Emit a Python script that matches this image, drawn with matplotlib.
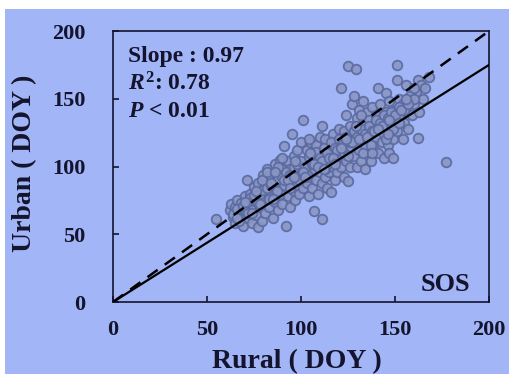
import numpy as np
import matplotlib
matplotlib.use('Agg')
import matplotlib.pyplot as plt
from matplotlib.patches import Rectangle

# rural / urban SOS (DOY)
rural = [62, 63, 64, 65, 65, 66, 67, 68, 68, 69, 70, 70,
         71, 72, 72, 73, 74, 74, 75, 76, 76, 77, 77, 78, 79, 79, 80, 80,
         81, 81, 82, 83, 83, 84, 85, 85, 86, 86, 87, 88, 88, 89, 89, 90, 90,
         91, 91, 92, 92, 93, 93, 94, 94, 95, 95, 96, 96, 97, 97, 98, 98, 99, 99, 100, 100,
         101, 101, 102, 102, 103, 103, 104, 104, 105, 105, 106, 106, 107, 107, 108, 108, 109, 109, 110, 110,
         111, 111, 111, 112, 112, 113, 113, 114, 114, 115, 115, 116, 116, 117, 117, 118, 118, 119, 119, 120, 120,
         121, 121, 122, 122, 123, 123, 124, 124, 125, 125, 125, 126, 126, 127, 127, 128, 128, 129, 129, 130, 130, 130,
         131, 131, 132, 132, 133, 133, 134, 134, 135, 135, 136, 136, 137, 137, 138, 138, 139, 139, 140, 140,
         141, 141, 142, 142, 143, 143, 144, 144, 145, 145, 146, 146, 147, 147, 148, 148, 149, 149, 150, 150,
         151, 151, 151, 152, 153, 154, 154, 155, 156, 156, 157, 158, 159, 160, 161, 162, 162, 163, 164, 165, 166, 168,
         177, 55,
         # second layer filling the dense band
         64, 66, 69, 71, 73, 75, 78, 80, 82, 84, 86, 88, 90, 92, 94, 96, 98, 100,
         102, 104, 106, 108, 110, 112, 114, 116, 118, 120, 122, 124, 126, 128, 130,
         132, 134, 136, 138, 140, 142, 144, 146, 148, 150, 152, 155, 158, 160,
         67, 72, 77, 83, 87, 91, 95, 99, 103, 107, 111, 115, 119, 123, 127, 131,
         135, 139, 143, 147, 153, 157,
         # third layer
         66, 70, 74, 79, 82, 85, 88, 93, 97, 101, 105, 109, 113, 117, 121, 125,
         129, 133, 137, 141, 145, 149, 152, 156, 160, 76, 84, 90, 96, 104,
         112, 118, 124, 132, 138, 146, 78, 86, 94, 102]
urban = [68, 72, 63, 58, 70, 75, 66, 61, 73, 56, 68, 78,
         90, 62, 72, 80, 58, 68, 85, 76, 64, 55, 88, 70, 82, 60, 75, 94,
         66, 86, 98, 78, 70, 92, 62, 84, 102, 74, 95, 68, 88, 80, 105, 72, 98,
         115, 86, 56, 93, 78, 104, 70, 98, 124, 88, 82, 108, 75, 95, 112, 86, 100, 80, 92, 118,
         134, 84, 104, 96, 88, 112, 78, 100, 118, 92, 84, 108, 67, 98, 116, 90, 104, 80, 122, 96,
         61, 130, 88, 110, 100, 92, 120, 84, 104, 114, 96, 81, 108, 124, 100, 90, 116, 106, 96, 128, 112,
         158, 100, 118, 108, 92, 126, 104, 138, 174, 89, 114, 130, 100, 122, 146, 108, 152, 172, 118, 136, 100, 126,
         112, 142, 120, 104, 132, 148, 116, 98, 126, 140, 110, 134, 122, 104, 144, 118, 130, 112, 138, 122,
         158, 110, 128, 146, 118, 136, 106, 124, 154, 140, 116, 130, 110, 148, 126, 136, 106, 120, 142, 132,
         175, 164, 126, 150, 138, 120, 146, 132, 160, 140, 128, 150, 138, 146, 155, 121, 164, 140, 160, 150, 158, 166,
         103, 61,
         65, 69, 71, 74, 77, 79, 80, 83, 84, 86, 89, 91, 92, 96, 94, 100, 102, 104,
         100, 107, 102, 111, 106, 114, 110, 118, 114, 120, 116, 122, 118, 126, 122,
         128, 124, 130, 126, 134, 132, 138, 136, 140, 138, 144, 142, 152, 150,
         60, 66, 73, 76, 82, 90, 93, 90, 94, 102, 104, 106, 112, 110, 118, 120,
         122, 126, 130, 134, 142, 146,
         62, 74, 66, 90, 96, 76, 100, 90, 104, 96, 110, 100, 98, 106, 114, 108,
         130, 110, 116, 128, 120, 128, 132, 150, 158, 82, 88, 106, 92, 120,
         98, 102, 120, 138, 110, 124, 72, 96, 84, 92]

one_to_one_x = [0, 200]
one_to_one_y = [0, 200]
fit_x = [0, 200]
fit_y = [0, 175]

x_ticks = [0, 50, 100, 150, 200]
y_ticks = [0, 50, 100, 150, 200]

bg = '#a2b5f6'
ink = '#14142e'
plt.rcParams['font.family'] = ['Liberation Serif', 'DejaVu Serif']
plt.rcParams['font.weight'] = 'bold'
plt.rcParams['mathtext.fontset'] = 'custom'
plt.rcParams['mathtext.it'] = 'Liberation Serif:italic:bold'
plt.rcParams['mathtext.rm'] = 'Liberation Serif:bold'
plt.rcParams['xtick.major.pad'] = 13
plt.rcParams['ytick.major.pad'] = 20

fig = plt.figure(figsize=(5.1, 3.74), dpi=100)
fig.patch.set_facecolor('white')
fig.patches.append(Rectangle((5 / 510, 0), 1, 1 - 9 / 374, transform=fig.transFigure,
                             facecolor=bg, edgecolor='none', zorder=-10))

ax = fig.add_axes([0.2216, 0.1925, 0.7373, 0.7246])
ax.set_facecolor(bg)

ax.scatter(rural, urban, s=48, facecolor='#8a96c4', edgecolor='#5a6aa0',
           linewidth=1.3, alpha=0.9, zorder=2)
ax.plot(one_to_one_x, one_to_one_y, '--', color='black', lw=1.8, dashes=(5, 3.5), zorder=3)
ax.plot(fit_x, fit_y, '-', color='black', lw=1.6, zorder=3)

ax.set_xlim(0, 200)
ax.set_ylim(0, 200)
ax.set_xticks(x_ticks)
ax.set_yticks(y_ticks)
ax.tick_params(direction='in', length=4, width=1.2, colors=ink, labelsize=16,
               top=False, right=False)
for sp in ax.spines.values():
    sp.set_color(ink)
    sp.set_linewidth(1.2)

ax.set_xlabel('Rural ( DOY )', fontsize=20, fontweight='bold', color=ink, va='center')
ax.set_ylabel('Urban ( DOY )', fontsize=20, fontweight='bold', color=ink, va='center')
ax.xaxis.set_label_coords(0.49, -0.221)
ax.yaxis.set_label_coords(-0.234, 0.51)

ax.text(0.04, 0.886, 'Slope : 0.97', transform=ax.transAxes, fontsize=17,
        fontweight='bold', color=ink, va='baseline')
ax.text(0.04, 0.782, r'$R^2$: 0.78', transform=ax.transAxes, fontsize=17,
        fontweight='bold', color=ink, va='baseline')
ax.text(0.04, 0.683, r'$P$ < 0.01', transform=ax.transAxes, fontsize=17,
        fontweight='bold', color=ink, va='baseline')
ax.text(0.949, 0.04, 'SOS', transform=ax.transAxes, fontsize=19,
        fontweight='bold', color=ink, ha='right', va='baseline')

fig.savefig('out.png', dpi=100, facecolor=fig.get_facecolor())
